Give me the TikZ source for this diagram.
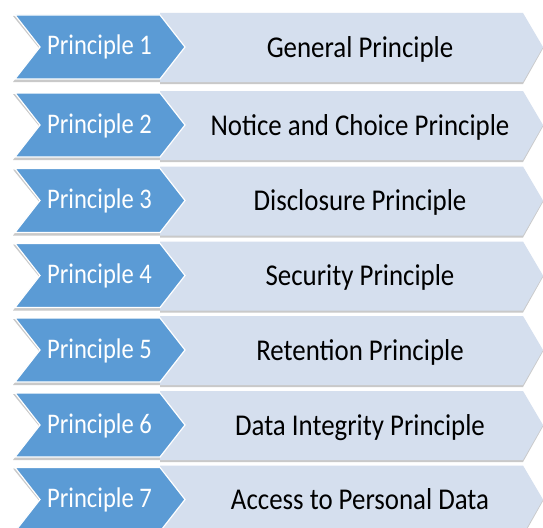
\documentclass[tikz,border=0pt]{standalone}
\usepackage{fontspec}
\setmainfont{Carlito}
\definecolor{chevblue}{HTML}{5B9BD5}
\definecolor{lightbox}{HTML}{D5DFEE}
\definecolor{shadowgray}{HTML}{C9C9C9}
\newcommand{\lefttxt}[1]{\scalebox{0.865}[1]{#1}}
\newcommand{\righttxt}[1]{\scalebox{0.89}[1]{#1}}
\tikzset{
  lefttext/.style={text=white,font=\fontsize{28.4}{30}\selectfont,inner sep=0pt,anchor=base},
  righttext/.style={text=black,font=\fontsize{30.2}{32}\selectfont,inner sep=0pt,anchor=base},
  bluechev/.style={fill=chevblue,draw=white,line width=1.2pt,line join=miter},
  lightpent/.style={fill=lightbox,draw=none},
  shadowpath/.style={fill=shadowgray,draw=none}
}
\begin{document}
\begin{tikzpicture}[x=1pt,y=-1pt]
\useasboundingbox (0,0) rectangle (543,527);
\fill[white] (0,0) rectangle (543,527);
\foreach \k/\yc/\lt/\rt in {1/47/Principle 1/General Principle,
                        2/125/Principle 2/Notice and Choice Principle,
                        3/200.5/Principle 3/Disclosure Principle,
                        4/275.5/Principle 4/Security Principle,
                        5/350/Principle 5/Retention Principle,
                        6/425/Principle 6/Data Integrity Principle,
                        7/499.5/Principle 7/Access to Personal Data}{
  \fill[shadowpath] (160,\yc-33) -- (523,\yc-33) -- (543,\yc+1.5) -- (523,\yc+37) -- (160,\yc+37) -- cycle;
  \fill[shadowpath] (13,\yc-31) -- (160,\yc-31) -- (186,\yc+1) -- (160,\yc+35) -- (13,\yc+35) -- (39,\yc+1) -- cycle;
  \fill[lightpent] (160,\yc-34) -- (523,\yc-34) -- (543,\yc) -- (523,\yc+35) -- (160,\yc+35) -- cycle;
  \draw[bluechev] (15,\yc-32) -- (160,\yc-32) -- (185,\yc) -- (160,\yc+32) -- (15,\yc+32) -- (40,\yc) -- cycle;
  \node[lefttext] (p\k) at (99.5,\yc+8) {\lefttxt{\lt}};
  \node[righttext] (d\k) at (360,\yc+10) {\righttxt{\rt}};
}
\end{tikzpicture}
\end{document}
